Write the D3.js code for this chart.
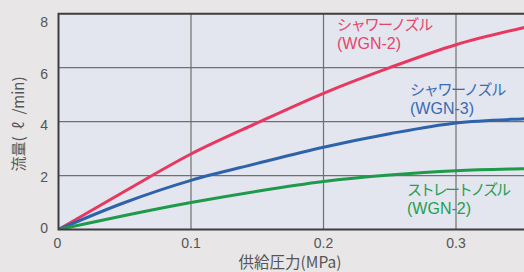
<!DOCTYPE html>
<html>
<head>
<meta charset="utf-8">
<script src="https://cdn.jsdelivr.net/npm/d3@7"></script>
<style>
  html, body { margin: 0; padding: 0; background: #e8e6e6; }
  svg { display: block; }
  .tick-label { font-family: "Liberation Sans", Arial, sans-serif; font-size: 14px; fill: #555; }
  .axis-title { font-family: "Noto Sans CJK JP", "Liberation Sans", sans-serif; font-size: 15px; fill: #555; }
  .series-label { font-family: "Noto Sans CJK JP", "Noto Sans", sans-serif; font-size: 15px; }
  .series-model { font-family: "Liberation Sans", Arial, sans-serif; font-size: 16px; }
</style>
</head>
<body>
<div id="chart"></div>
<script>
var pressure = [0, 0.05, 0.1, 0.15, 0.2, 0.25, 0.3, 0.35, 0.36];
var showerWgn2 = [0, 1.42, 2.8, 3.95, 5.05, 6.0, 6.85, 7.47, 7.58];
var showerWgn3 = [0, 1.0, 1.82, 2.45, 3.05, 3.55, 3.95, 4.1, 4.12];
var straightWgn2 = [0, 0.52, 1.0, 1.42, 1.78, 2.02, 2.18, 2.25, 2.26];
var xTicks = [0, 0.1, 0.2, 0.3];
var xTickLabels = ["0", "0.1", "0.2", "0.3"];
var yTicks = [0, 2, 4, 6, 8];
var seriesNames = ["シャワーノズル", "シャワーノズル", "ストレートノズル"];
var seriesModels = ["(WGN-2)", "(WGN-3)", "(WGN-2)"];
var seriesColors = ["#e8385f", "#2f63a9", "#1f9a4a"];
var labelColors = ["#e4466a", "#386bb3", "#22a050"];

(function () {
  "use strict";

  var width = 524;
  var height = 272;

  var x = d3.scaleLinear().domain([0, 0.3]).range([58.5, 456]);
  var y = d3.scaleLinear().domain([0, 8]).range([229.5, 13.7]);
  // The printed tick numbers sit on a slightly tighter spacing than the grid.
  var yLabel = d3.scaleLinear().domain([0, 8]).range([233, 27]);

  var svg = d3.select("#chart").append("svg")
    .attr("width", width)
    .attr("height", height);

  var plotLeft = x(0);
  var plotTop = y(8);
  var plotBottom = y(0);

  svg.append("defs").append("clipPath").attr("id", "plot-clip")
    .append("rect")
    .attr("x", plotLeft)
    .attr("y", plotTop)
    .attr("width", width - plotLeft + 10)
    .attr("height", plotBottom - plotTop);

  svg.append("rect")
    .attr("x", plotLeft)
    .attr("y", plotTop)
    .attr("width", width - plotLeft + 10)
    .attr("height", plotBottom - plotTop)
    .attr("fill", "#e3e5ef");

  var grid = svg.append("g").attr("stroke", "#707070").attr("stroke-width", 1.2);
  grid.selectAll("line.h")
    .data(yTicks.slice(1, -1))
    .join("line")
    .attr("class", "h")
    .attr("x1", plotLeft)
    .attr("x2", width + 5)
    .attr("y1", function (d) { return y(d); })
    .attr("y2", function (d) { return y(d); });
  grid.selectAll("line.v")
    .data(xTicks.slice(1))
    .join("line")
    .attr("class", "v")
    .attr("x1", function (d) { return x(d); })
    .attr("x2", function (d) { return x(d); })
    .attr("y1", plotTop)
    .attr("y2", plotBottom);

  var line = d3.line()
    .x(function (d) { return x(d[0]); })
    .y(function (d) { return y(d[1]); })
    .curve(d3.curveMonotoneX);

  var series = [showerWgn2, showerWgn3, straightWgn2];
  svg.append("g").attr("clip-path", "url(#plot-clip)")
    .selectAll("path")
    .data(series)
    .join("path")
    .attr("fill", "none")
    .attr("stroke", function (d, i) { return seriesColors[i]; })
    .attr("stroke-width", 3)
    .attr("stroke-linecap", "round")
    .attr("d", function (values) {
      return line(values.map(function (v, i) { return [pressure[i], v]; }));
    });

  // frame: left, top and bottom edges; the right edge runs off the picture
  svg.append("path")
    .attr("fill", "none")
    .attr("stroke", "#3e3e3e")
    .attr("stroke-width", 2)
    .attr("d", "M" + (width + 5) + "," + plotTop + "H" + plotLeft + "V" + plotBottom + "H" + (width + 5));

  svg.append("g").selectAll("text")
    .data(yTicks)
    .join("text")
    .attr("class", "tick-label")
    .attr("x", 48)
    .attr("y", function (d) { return yLabel(d); })
    .attr("text-anchor", "end")
    .text(function (d) { return d; });

  svg.append("g").selectAll("text")
    .data(xTicks)
    .join("text")
    .attr("class", "tick-label")
    .attr("x", function (d) { return x(d) - (d === 0 ? 1 : 0); })
    .attr("y", 247.5)
    .attr("text-anchor", "middle")
    .text(function (d, i) { return xTickLabels[i]; });

  svg.append("text")
    .attr("class", "axis-title")
    .attr("x", 290)
    .attr("y", 267.5)
    .attr("text-anchor", "middle")
    .style("font-size", "15.5px")
    .text("供給圧力(MPa)");

  svg.append("text")
    .attr("class", "axis-title")
    .attr("transform", "translate(24,124) rotate(-90)")
    .attr("text-anchor", "middle")
    .text("流量(\u2002ℓ\u2002/min)");

  var labelPos = [[337, 29.5], [410, 94.5], [407, 194.5]];
  var labelSpacing = [-1.3, -1.3, -2.3];
  seriesNames.forEach(function (name, i) {
    svg.append("text")
      .attr("class", "series-label")
      .attr("fill", labelColors[i])
      .attr("x", labelPos[i][0])
      .attr("y", labelPos[i][1])
      .attr("letter-spacing", labelSpacing[i])
      .text(name);
    svg.append("text")
      .attr("class", "series-model")
      .attr("fill", labelColors[i])
      .attr("x", labelPos[i][0])
      .attr("y", labelPos[i][1] + 19)
      .text(seriesModels[i]);
  });
})();
</script>
</body>
</html>
